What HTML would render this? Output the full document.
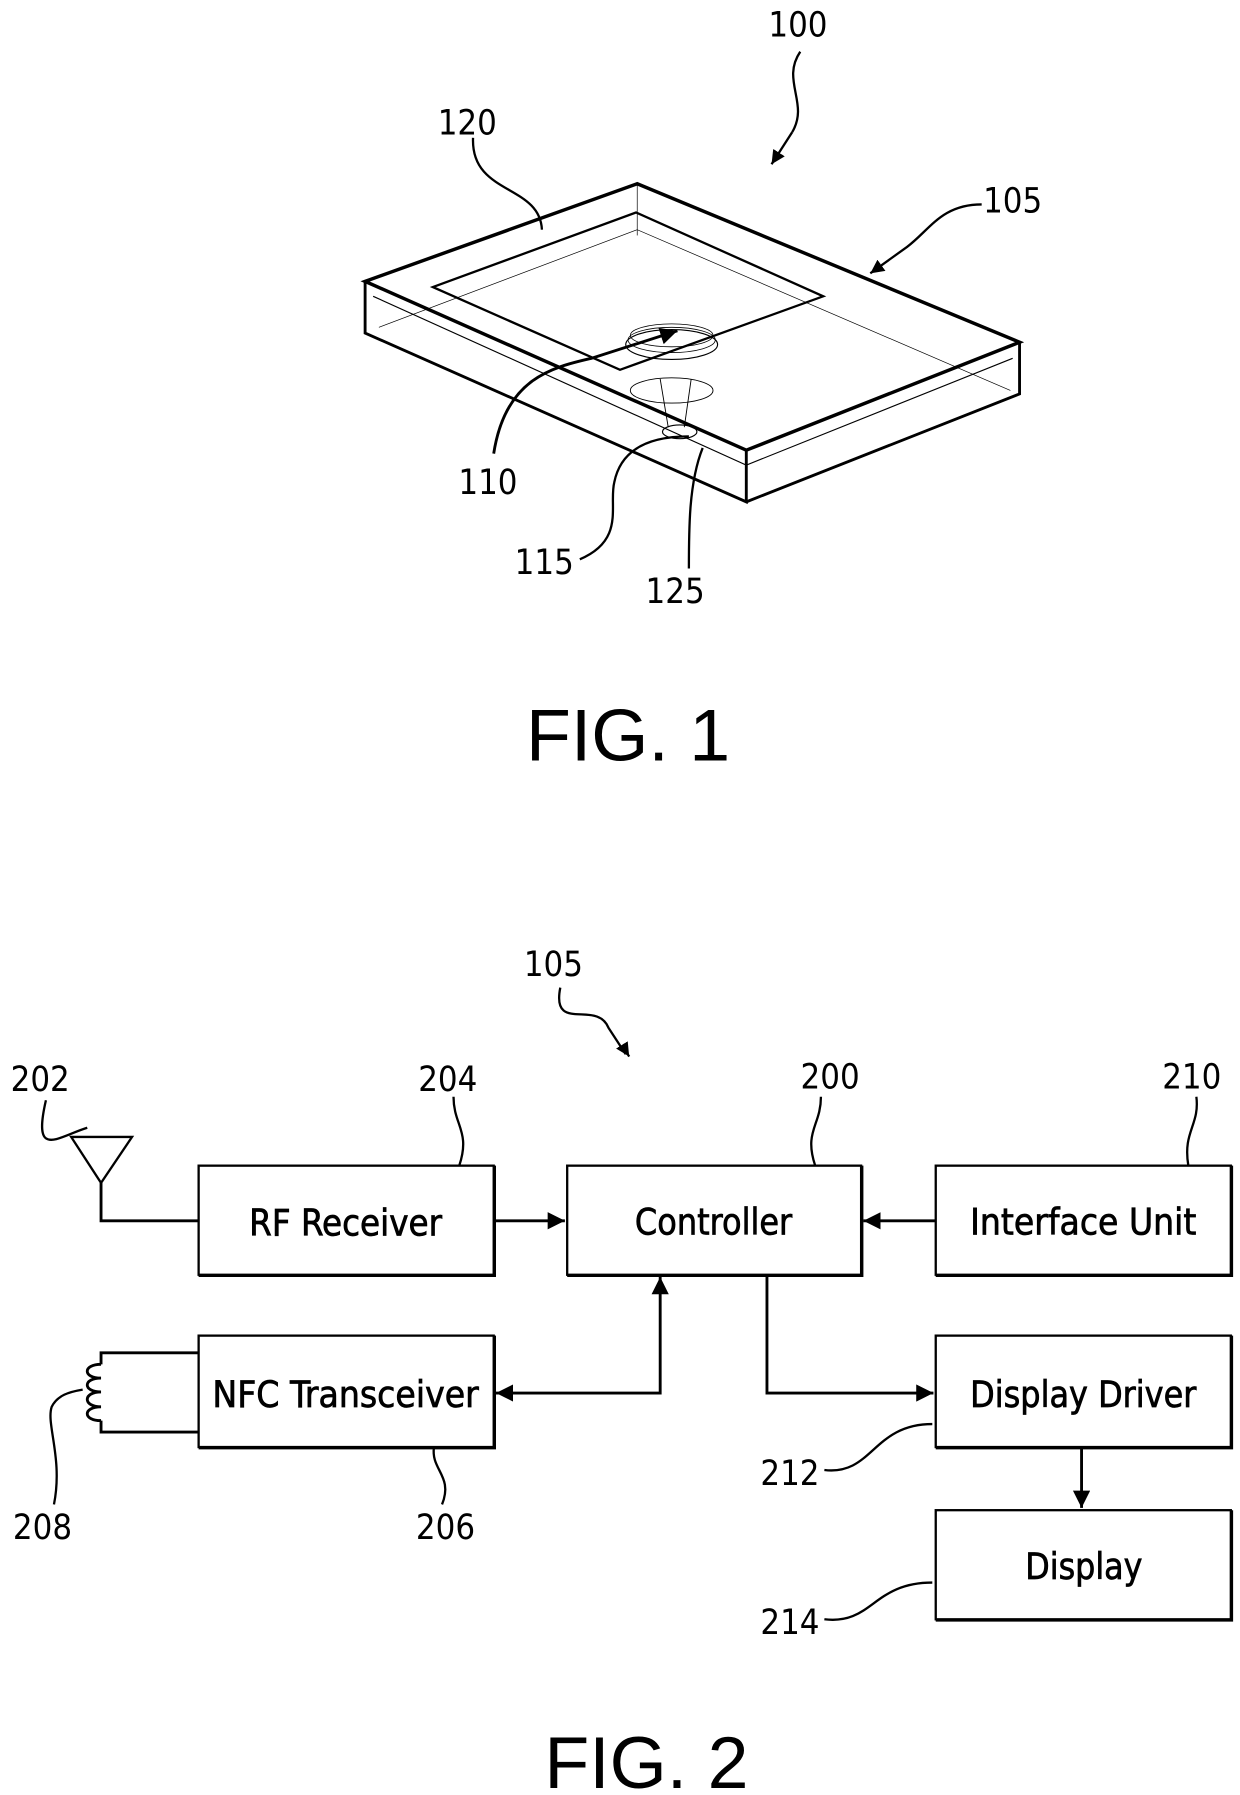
<!DOCTYPE html>
<html><head><meta charset="utf-8"><style>
html,body{margin:0;padding:0;background:#fff;}
svg{display:block}
text{font-family:"DejaVu Sans Condensed","DejaVu Sans","Liberation Sans",sans-serif;fill:#000}
</style></head><body>
<svg width="1240" height="1795" viewBox="0 0 1080 1563" preserveAspectRatio="none" xmlns="http://www.w3.org/2000/svg">
<defs>
<marker id="ah" viewBox="0 0 10 10" refX="10" refY="5" markerWidth="6" markerHeight="6" orient="auto-start-reverse"><path d="M0,0 L10,5 L0,10 z" fill="#000"/></marker>
</defs>
<g fill="none" stroke="#000">
<!-- FIG 1 box -->
<path d="M318,245 L555,160 L888,298 L650,392 Z" stroke-width="3"/>
<path d="M318,245 L318,290 L650,437 L650,392" stroke-width="2.5"/>
<path d="M650,437 L888,343 L888,298" stroke-width="2.5"/>
<path d="M325,258 L650,405 L882,312" stroke-width="1"/>
<path d="M330,285 L555,200 L880,340" stroke-width="0.6"/>
<path d="M555,160 L555,205" stroke-width="0.6"/>
<path d="M377,250 L554,185 L717,258 L540,322 Z" stroke-width="2"/>
<ellipse cx="585" cy="300" rx="40" ry="13" stroke-width="1"/>
<ellipse cx="585" cy="296" rx="38" ry="11" stroke-width="0.7"/>
<ellipse cx="585" cy="292" rx="36" ry="10" stroke-width="0.7"/>
<ellipse cx="585" cy="340" rx="36" ry="11" stroke-width="0.8"/>
<path d="M575,330 L582,372 M602,330 L596,372" stroke-width="0.8"/>
<ellipse cx="592" cy="376" rx="15" ry="6" stroke-width="1"/>
<!-- leaders fig1 -->
<path d="M697,45 C680,70 705,90 690,115" stroke-width="2"/>
<path d="M690,115 L672,143" stroke-width="2" marker-end="url(#ah)"/>
<path d="M412,120 C410,170 470,160 472,200" stroke-width="2"/>
<path d="M855,178 C820,178 810,200 790,215 L758,238" stroke-width="2" marker-end="url(#ah)"/>
<path d="M430,395 C440,330 480,320 515,312 L590,288" stroke-width="2.5" marker-end="url(#ah)"/>
<path d="M505,487 C545,470 530,440 535,420 C540,395 560,380 600,380" stroke-width="2"/>
<path d="M600,495 C600,460 600,420 612,390" stroke-width="2"/>
<!-- FIG 2 boxes -->
<rect x="173" y="1015" width="257" height="95" stroke-width="2"/>
<rect x="494" y="1015" width="256" height="95" stroke-width="2"/>
<rect x="815" y="1015" width="257" height="95" stroke-width="2"/>
<rect x="173" y="1163" width="257" height="97" stroke-width="2"/>
<rect x="815" y="1163" width="257" height="97" stroke-width="2"/>
<rect x="815" y="1315" width="257" height="95" stroke-width="2"/>
<path d="M173,1111 H431 V1015 M494,1111 H751 V1015 M815,1111 H1073 V1015 M173,1261 H431 V1163 M815,1261 H1073 V1163 M815,1411 H1073 V1315" stroke-width="2"/>
<!-- antenna -->
<path d="M62,990 L115,990 L88,1030 Z" stroke-width="2"/>
<path d="M88,1030 V1063 H173" stroke-width="2.5"/>
<!-- arrows -->
<path d="M430,1063 H492" stroke-width="2.5" marker-end="url(#ah)"/>
<path d="M815,1063 H752" stroke-width="2.5" marker-end="url(#ah)"/>
<path d="M432,1213 H575 V1112" stroke-width="2.5" marker-start="url(#ah)" marker-end="url(#ah)"/>
<path d="M668,1110 V1213 H813" stroke-width="2.5" marker-end="url(#ah)"/>
<path d="M942,1260 V1313" stroke-width="2.5" marker-end="url(#ah)"/>
<!-- coil -->
<path d="M173,1178 H88 V1188 M88,1237 V1247 H173" stroke-width="2.5"/>
<path d="M88,1188 C72,1188 72,1200 88,1200 C72,1200 72,1212 88,1212 C72,1212 72,1225 88,1225 C72,1225 72,1237 88,1237" stroke-width="2.5"/>
<!-- fig2 leaders -->
<path d="M488,860 C480,900 520,870 530,895 L545,918" stroke-width="2"/>
<path d="M543,912 L548,920" stroke-width="2" marker-end="url(#ah)"/>
<path d="M40,958 C28,1010 50,990 76,982" stroke-width="2"/>
<path d="M395,955 C395,980 410,985 400,1015" stroke-width="2"/>
<path d="M715,955 C715,980 700,985 710,1015" stroke-width="2"/>
<path d="M1042,955 C1045,980 1030,985 1035,1015" stroke-width="2"/>
<path d="M47,1310 C55,1270 40,1240 45,1225 C50,1215 60,1212 72,1210" stroke-width="2"/>
<path d="M385,1310 C395,1285 375,1280 378,1260" stroke-width="2"/>
<path d="M718,1280 C760,1285 760,1240 812,1240" stroke-width="2"/>
<path d="M718,1410 C760,1415 760,1378 812,1378" stroke-width="2"/>
</g>
<g font-size="30">
<text x="695" y="32" text-anchor="middle">100</text>
<text x="407" y="117" text-anchor="middle">120</text>
<text x="882" y="185" text-anchor="middle">105</text>
<text x="425" y="430" text-anchor="middle">110</text>
<text x="474" y="500" text-anchor="middle">115</text>
<text x="588" y="525" text-anchor="middle">125</text>
<text x="482" y="850" text-anchor="middle">105</text>
<text x="35" y="950" text-anchor="middle">202</text>
<text x="390" y="950" text-anchor="middle">204</text>
<text x="723" y="948" text-anchor="middle">200</text>
<text x="1038" y="948" text-anchor="middle">210</text>
<text x="37" y="1340" text-anchor="middle">208</text>
<text x="388" y="1340" text-anchor="middle">206</text>
<text x="688" y="1293" text-anchor="middle">212</text>
<text x="688" y="1423" text-anchor="middle">214</text>
</g>
<g font-size="32" stroke="#000" stroke-width="0.6">
<text x="217" y="1076" textLength="168" lengthAdjust="spacingAndGlyphs">RF Receiver</text>
<text x="553" y="1075" textLength="137" lengthAdjust="spacingAndGlyphs">Controller</text>
<text x="845" y="1075" textLength="197" lengthAdjust="spacingAndGlyphs">Interface Unit</text>
<text x="185" y="1225" textLength="232" lengthAdjust="spacingAndGlyphs">NFC Transceiver</text>
<text x="845" y="1225" textLength="197" lengthAdjust="spacingAndGlyphs">Display Driver</text>
<text x="893" y="1375" textLength="102" lengthAdjust="spacingAndGlyphs">Display</text>
</g>
<text x="547" y="662" font-size="64" text-anchor="middle" style="font-family:'Liberation Sans',sans-serif">FIG. 1</text>
<text x="563" y="1557" font-size="64" text-anchor="middle" style="font-family:'Liberation Sans',sans-serif">FIG. 2</text>
</svg>
</body></html>
